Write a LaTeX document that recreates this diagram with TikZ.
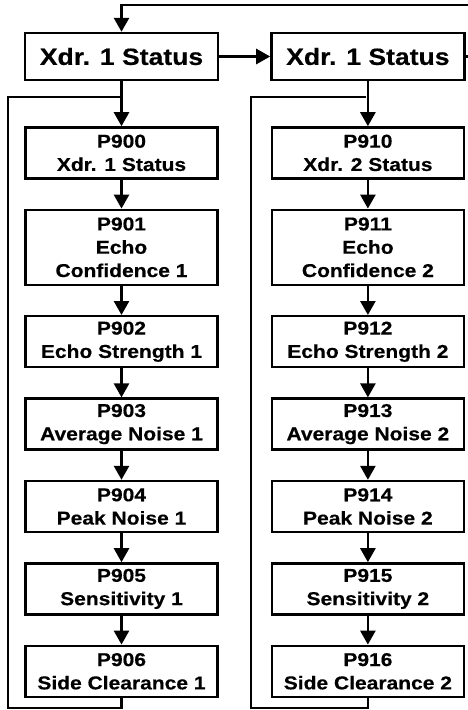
\documentclass[tikz,border=0pt]{standalone}
\usepackage{fontspec}
\setmainfont{Liberation Sans}[FakeStretch=1.13, BoldFeatures={FakeBold=0.4}]
\usepackage{tikz}
\usetikzlibrary{arrows.meta,positioning}

\begin{document}
\begin{tikzpicture}[
  x=1pt, y=-1pt,
  node distance=29pt,
  hdrbox/.style={draw, line width=2.4pt, minimum width=193pt, minimum height=47pt, inner sep=0pt, font=\fontsize{23.5}{28}\selectfont\bfseries},
  parbox/.style={draw, line width=2.4pt, minimum width=192pt, minimum height=51pt, inner sep=0pt, align=center, font=\fontsize{18.6}{23.3}\selectfont\bfseries},
  link/.style={line width=2.6pt},
  arrow/.style={link, -{Triangle[width=15pt,length=14pt]}}
]
\useasboundingbox (0,0) rectangle (468,710);
\node[hdrbox] (hdrA) at (121.5,56.5) {Xdr. 1 Status};
\node[hdrbox, right=51pt of hdrA] (hdrB) {Xdr. 1 Status};
% transducer 1
\node[parbox, below=45pt of hdrA] (p900) {P900\\Xdr. 1 Status};
\node[parbox, below=of p900, minimum height=75pt] (p901) {P901\\Echo\\Confidence 1};
\node[parbox, below=of p901] (p902) {P902\\Echo Strength 1};
\node[parbox, below=of p902] (p903) {P903\\Average Noise 1};
\node[parbox, below=of p903] (p904) {P904\\Peak Noise 1};
\node[parbox, below=of p904] (p905) {P905\\Sensitivity 1};
\node[parbox, below=of p905] (p906) {P906\\Side Clearance 1};
% transducer 2
\node[parbox, below=45pt of hdrB] (p910) {P910\\Xdr. 2 Status};
\node[parbox, below=of p910, minimum height=75pt] (p911) {P911\\Echo\\Confidence 2};
\node[parbox, below=of p911] (p912) {P912\\Echo Strength 2};
\node[parbox, below=of p912] (p913) {P913\\Average Noise 2};
\node[parbox, below=of p913] (p914) {P914\\Peak Noise 2};
\node[parbox, below=of p914] (p915) {P915\\Sensitivity 2};
\node[parbox, below=of p915] (p916) {P916\\Side Clearance 2};

\coordinate (ljoin) at (121.5,97);
\coordinate (lcorner) at (8,708);
\coordinate (rjoin) at (365.5,97);
\coordinate (rcorner) at (251,708);
\coordinate (topright) at (474,5);

\draw[arrow] (hdrA) -- (hdrB);
\draw[arrow] (hdrB.east) -| (topright) -| (hdrA.north);
\draw[arrow] (hdrA.south) -- (p900.north);
\draw[arrow] (hdrB.south) -- (p910.north);
\foreach \a/\b in {p900/p901, p901/p902, p902/p903, p903/p904, p904/p905, p905/p906,
                   p910/p911, p911/p912, p912/p913, p913/p914, p914/p915, p915/p916}
  \draw[arrow] (\a) -- (\b);
\draw[link] (p906.south) |- (lcorner) |- (ljoin);
\draw[link] (p916.south) |- (rcorner) |- (rjoin);
\end{tikzpicture}
\end{document}
